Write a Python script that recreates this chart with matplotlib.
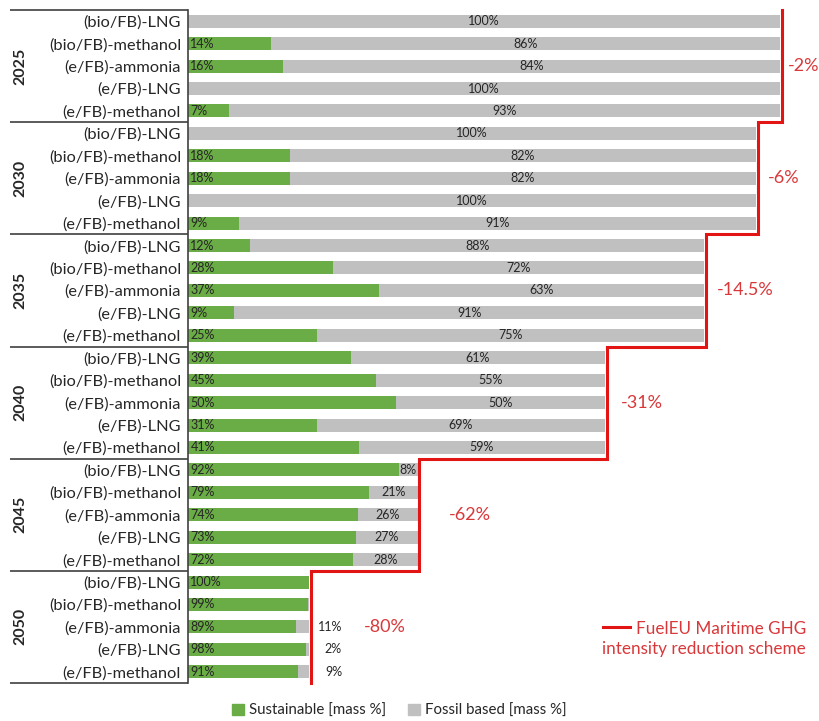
import matplotlib
matplotlib.use("Agg")
import matplotlib.pyplot as plt
from matplotlib.patches import Patch
from matplotlib.lines import Line2D

plt.rcParams['font.family'] = ['Lato', 'DejaVu Sans']

years = ["2025", "2030", "2035", "2040", "2045", "2050"]
fuels = ["(bio/FB)-LNG", "(bio/FB)-methanol", "(e/FB)-ammonia", "(e/FB)-LNG", "(e/FB)-methanol"]
reduction = [2, 6, 14.5, 31, 62, 80]          # GHG intensity reduction [%]
reduction_labels = ["-2%", "-6%", "-14.5%", "-31%", "-62%", "-80%"]

sustainable = [
    [0, 14, 16, 0, 7],
    [0, 18, 18, 0, 9],
    [12, 28, 37, 9, 25],
    [39, 45, 50, 31, 41],
    [92, 79, 74, 73, 72],
    [100, 99, 89, 98, 91],
]
fossil = [
    [100, 86, 84, 100, 93],
    [100, 82, 82, 100, 91],
    [88, 72, 63, 91, 75],
    [61, 55, 50, 69, 59],
    [8, 21, 26, 27, 28],
    [0, 1, 11, 2, 9],
]

GREEN = "#6aac45"
GREY = "#c0c0c0"
RED = "#e31414"
RED_TXT = "#d9383a"
TXT = "#262626"

fig = plt.figure(figsize=(8.2, 7.21), dpi=100)
ax = fig.add_axes([188 / 820, 1 - 683 / 721, 632 / 820, 673 / 721])

n_f = len(fuels)
n_rows = len(years) * n_f
bar_h = 0.58
ax.set_xlim(0, 1.0464)
ax.set_ylim(n_rows - 0.5, -0.5)

ylabels = []
for g, yr in enumerate(years):
    scale = (100 - reduction[g]) / 100.0
    for k, fuel in enumerate(fuels):
        row = g * n_f + k
        s = sustainable[g][k] / 100.0 * scale
        f = fossil[g][k] / 100.0 * scale
        ax.barh(row, s, height=bar_h, color=GREEN, edgecolor="none")
        ax.barh(row, f, left=s, height=bar_h, color=GREY, edgecolor="none")
        if sustainable[g][k] > 0:
            ax.text(0.004, row, f"{sustainable[g][k]}%", ha="left", va="center",
                    fontsize=9, color=TXT)
        if fossil[g][k] > 1:
            if f >= 0.025:
                ax.text(s + f / 2, row, f"{fossil[g][k]}%", ha="center", va="center",
                        fontsize=9, color=TXT)
            else:
                ax.text(s + f + 0.055, row, f"{fossil[g][k]}%", ha="right", va="center",
                        fontsize=9, color=TXT)
        ylabels.append(fuel)

ax.set_yticks(range(n_rows))
ax.set_yticklabels(ylabels, fontsize=11.8, color=TXT)
ax.tick_params(axis="y", length=0, pad=5)
ax.set_xticks([])
for sp in ["top", "right", "bottom"]:
    ax.spines[sp].set_visible(False)
ax.spines["left"].set_color("#404040")
ax.spines["left"].set_linewidth(1.2)

# group separators and year labels in the left margin
trans = ax.get_yaxis_transform()
for g in range(len(years) + 1):
    yb = g * n_f - 0.5
    ax.plot([-0.282, 0], [yb, yb], transform=trans, color="#404040", lw=1.2,
            clip_on=False, solid_capstyle="butt")
for g, yr in enumerate(years):
    ax.text(-0.265, g * n_f + (n_f - 1) / 2, yr, transform=trans, rotation=90,
            ha="center", va="center", fontsize=11.5, fontweight="bold", color=TXT)

# red stepped reduction line
xs, ys = [], []
for g in range(len(years)):
    xr = (100 - reduction[g]) / 100.0 + 0.003
    xs += [xr, xr]
    ys += [g * n_f - 0.5, (g + 1) * n_f - 0.5]
ax.plot(xs, ys, color=RED, lw=2.2, clip_on=False, solid_joinstyle="miter")

offsets = [8, 12, 12, 16, 31, 55]   # text offset from the step [px]
for g, lab in enumerate(reduction_labels):
    xr = (100 - reduction[g]) / 100.0 + offsets[g] / 604
    ax.text(xr, g * n_f + 2, lab, ha="left", va="center", fontsize=13, color=RED_TXT)

# legend for the reduction scheme line
fig.add_artist(Line2D([603 / 820, 630 / 820], [1 - 627 / 721, 1 - 627 / 721],
                      color=RED, lw=2.2, transform=fig.transFigure))
fig.text(806 / 820, 1 - 639 / 721, "FuelEU Maritime GHG\nintensity reduction scheme",
         ha="right", va="center", multialignment="right", fontsize=12.3,
         color=RED_TXT, linespacing=1.3)

handles = [Patch(color=GREEN, label="Sustainable [mass %]"),
           Patch(color=GREY, label="Fossil based [mass %]")]
fig.legend(handles=handles, loc="center", bbox_to_anchor=(0.487, 0.014), ncol=2,
           frameon=False, fontsize=10.8, handlelength=0.8, handleheight=0.8,
           handletextpad=0.3, columnspacing=1.5, labelcolor=TXT)

fig.savefig("out.png", dpi=100, facecolor="white")
